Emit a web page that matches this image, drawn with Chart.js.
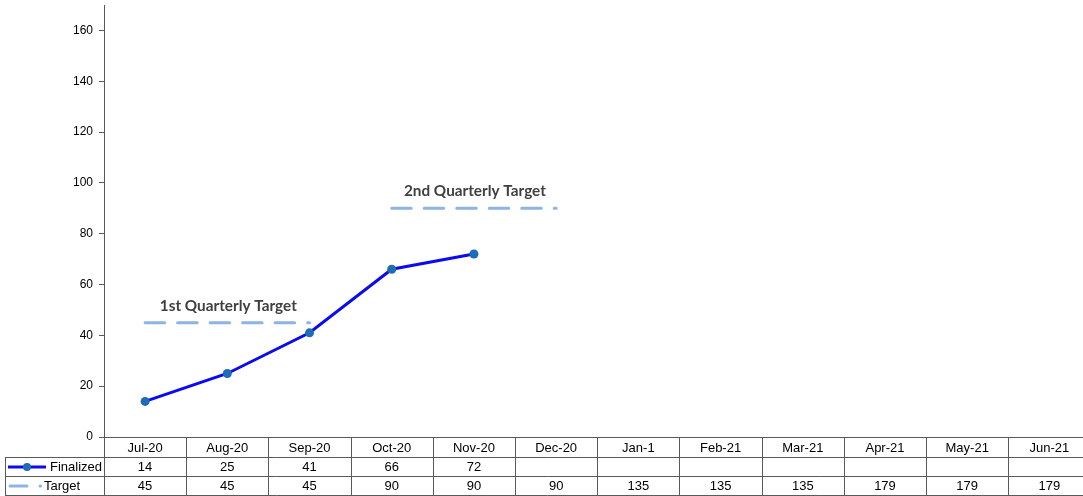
<!DOCTYPE html>
<html>
<head>
<meta charset="utf-8">
<script src="https://cdn.jsdelivr.net/npm/chart.js@4/dist/chart.umd.min.js"></script>
<style>
  html, body { margin: 0; padding: 0; background: #fff; overflow: hidden; }
  canvas { display: block; }
</style>
</head>
<body>
<canvas id="c" width="1095" height="496"></canvas>
<script>
const categories = ['Jul-20','Aug-20','Sep-20','Oct-20','Nov-20','Dec-20','Jan-1','Feb-21','Mar-21','Apr-21','May-21','Jun-21'];
const finalized = [14, 25, 41, 66, 72, null, null, null, null, null, null, null];
const targetValues = [45, 45, 45, 90, 90, 90, 135, 135, 135, 179, 179, 179];
const targetPlottedMonths = 6;
const annotationLabels = ['1st Quarterly Target', '2nd Quarterly Target'];
const annotationIndex = [1, 4];
const yMin = 0, yMax = 170, yStep = 20;

const FINAL_COLOR = '#0b0bf0';
const POINT_COLOR = '#1d6cb4';
const TARGET_COLOR = '#8db4e2';
const GRID = '#5a5a5a';
const FONT = '"Liberation Sans", Arial, sans-serif';

const targetLine = targetValues.map((v, i) => i < targetPlottedMonths ? v : null);

const tablePlugin = {
  id: 'dataTable',
  afterDraw(chart) {
    const ctx = chart.ctx;
    const xs = chart.scales.x;
    const ys = chart.scales.y;
    const n = categories.length;
    const w = (xs.right - xs.left) / n;
    const top = ys.bottom;
    const r1 = top + 20, r2 = top + 39, bottom = top + 58;
    const leftX = 5;
    ctx.save();
    ctx.strokeStyle = GRID;
    ctx.lineWidth = 1;
    const hl = (y, x0, x1) => { ctx.beginPath(); ctx.moveTo(x0, Math.round(y) + 0.5); ctx.lineTo(x1, Math.round(y) + 0.5); ctx.stroke(); };
    const vl = (x, y0, y1) => { ctx.beginPath(); ctx.moveTo(Math.round(x) + 0.5, y0); ctx.lineTo(Math.round(x) + 0.5, y1); ctx.stroke(); };
    hl(top, xs.left, xs.right);
    hl(r1, leftX, xs.right);
    hl(r2, leftX, xs.right);
    hl(bottom, leftX, xs.right);
    vl(leftX, r1, bottom + 1);
    for (let i = 0; i <= n; i++) vl(xs.left + i * w, top, bottom + 1);

    ctx.fillStyle = '#000';
    ctx.font = '13px ' + FONT;
    ctx.textAlign = 'center';
    ctx.textBaseline = 'middle';
    for (let i = 0; i < n; i++) {
      const cx = xs.getPixelForValue(i);
      ctx.fillText(categories[i], cx, (top + r1) / 2 + 1);
      if (finalized[i] != null) ctx.fillText(String(finalized[i]), cx, (r1 + r2) / 2 + 1);
      if (targetValues[i] != null) ctx.fillText(String(targetValues[i]), cx, (r2 + bottom) / 2 + 1);
    }
    // legend keys
    const y1 = (r1 + r2) / 2 + 0.5, y2 = (r2 + bottom) / 2 + 0.5;
    ctx.strokeStyle = FINAL_COLOR; ctx.lineWidth = 3; ctx.lineCap = 'butt';
    ctx.beginPath(); ctx.moveTo(8, y1); ctx.lineTo(46, y1); ctx.stroke();
    ctx.fillStyle = POINT_COLOR;
    ctx.beginPath(); ctx.arc(27, y1, 4, 0, Math.PI * 2); ctx.fill();
    ctx.strokeStyle = TARGET_COLOR; ctx.lineCap = 'round';
    ctx.beginPath(); ctx.moveTo(10, y2); ctx.lineTo(27, y2); ctx.stroke();
    ctx.beginPath(); ctx.moveTo(40, y2); ctx.lineTo(40.5, y2); ctx.stroke();
    ctx.fillStyle = '#000';
    ctx.textAlign = 'right';
    ctx.fillText('Finalized', 102, y1 + 0.5);
    ctx.textAlign = 'left';
    ctx.fillText('Target', 44, y2 + 0.5);

    // annotations
    ctx.fillStyle = '#404040';
    ctx.font = 'bold 15.3px Lato, "Open Sans", sans-serif';
    ctx.textAlign = 'center';
    ctx.textBaseline = 'middle';
    annotationLabels.forEach((t, k) => {
      const i = annotationIndex[k];
      ctx.fillText(t, xs.getPixelForValue(i) + 1, ys.getPixelForValue(targetValues[i]) - 17);
    });
    ctx.restore();
  }
};

new Chart(document.getElementById('c'), {
  type: 'line',
  data: {
    labels: categories,
    datasets: [
      {
        label: 'Target',
        data: targetLine,
        borderColor: TARGET_COLOR,
        borderWidth: 3,
        borderDash: [19.5, 13],
        borderCapStyle: 'round',
        pointRadius: 0,
        spanGaps: false,
        segment: {
          borderColor: c => targetLine[c.p0DataIndex] !== targetLine[c.p1DataIndex] ? 'rgba(0,0,0,0)' : TARGET_COLOR
        }
      },
      {
        label: 'Finalized',
        data: finalized,
        borderColor: FINAL_COLOR,
        borderWidth: 3,
        pointRadius: 4.5,
        pointBackgroundColor: POINT_COLOR,
        pointBorderColor: POINT_COLOR,
        pointBorderWidth: 0,
        tension: 0
      }
    ]
  },
  options: {
    responsive: false,
    animation: false,
    events: [],
    layout: { padding: { left: 0, right: 1, top: 5, bottom: 59 } },
    plugins: { legend: { display: false }, tooltip: { enabled: false } },
    scales: {
      x: {
        display: false,
        offset: true
      },
      y: {
        min: yMin,
        max: yMax,
        afterBuildTicks: s => { s.ticks = s.ticks.filter(t => t.value % yStep === 0); },
        afterFit: s => { s.width = 104; s.paddingTop = 0; s.paddingBottom = 0; },
        ticks: { stepSize: yStep, color: '#000', font: { family: FONT, size: 12 }, padding: 6 },
        grid: { drawOnChartArea: false, drawTicks: true, tickLength: 5, color: GRID },
        border: { color: GRID, width: 1 }
      }
    }
  },
  plugins: [tablePlugin]
});
</script>
</body>
</html>
